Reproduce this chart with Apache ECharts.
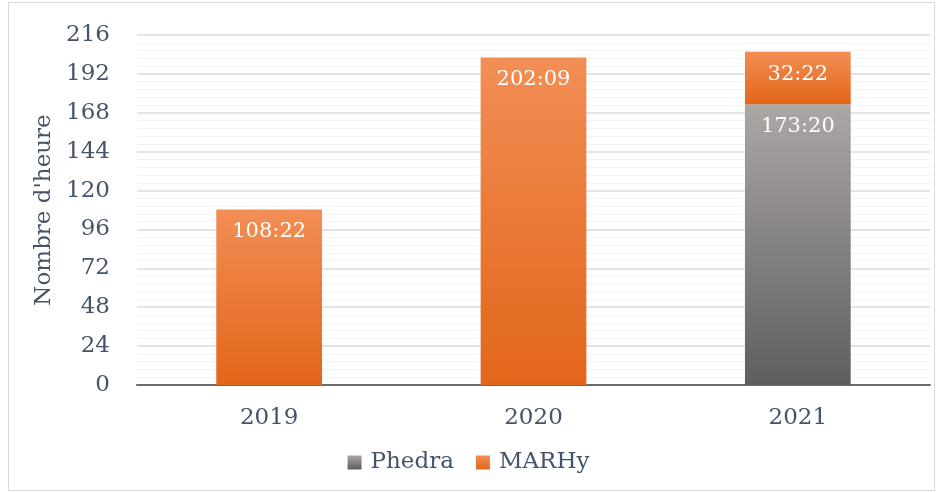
<!DOCTYPE html>
<html>
<head>
<meta charset="utf-8">
<script src="https://cdn.jsdelivr.net/npm/echarts@6/dist/echarts.min.js"></script>
<style>
  html, body { margin: 0; padding: 0; background: #fff; }
  #chart { width: 937px; height: 493px; }
</style>
</head>
<body>
<div id="chart"></div>
<script>
var years = ['2019', '2020', '2021'];
var phedra = [null, null, '173:20'];   // heures:minutes
var marhy = ['108:22', '202:09', '32:22'];
var yTicks = [0, 24, 48, 72, 96, 120, 144, 168, 192, 216];

var FONT = 'DejaVu Serif';
var TXT = '#44546a';

// "hh:mm" -> heures décimales
function toHours(s) {
    if (!s) return null;
    var p = s.split(':');
    return +p[0] + (+p[1]) / 60;
}
function toLabel(v) {
    var h = Math.floor(v + 1e-6);
    var m = Math.round((v - h) * 60);
    return h + ':' + (m < 10 ? '0' + m : m);
}

var myChart = echarts.init(document.getElementById('chart'));

var orangeGrad = new echarts.graphic.LinearGradient(0, 0, 0, 1, [
    {offset: 0, color: '#f28e55'},
    {offset: 1, color: '#e2661a'}
]);
var grayGrad = new echarts.graphic.LinearGradient(0, 0, 0, 1, [
    {offset: 0, color: '#aba7a5'},
    {offset: 1, color: '#5f5d5e'}
]);

var labelStyle = {
    show: true,
    position: 'insideTop',
    distance: 12,
    color: '#ffffff',
    fontFamily: FONT,
    fontSize: 21,
    formatter: function (p) { return toLabel(p.value); }
};

var option = {
    animation: false,
    graphic: [{
        type: 'rect',
        shape: {x: 8.5, y: 2.5, width: 926, height: 488},
        style: {fill: 'none', stroke: '#d9d9d9', lineWidth: 1},
        z: -10
    }],
    grid: {left: 137, right: 7, top: 35, bottom: 108},
    legend: {
        bottom: 14,
        left: 'center',
        icon: 'rect',
        itemWidth: 14,
        itemHeight: 14,
        itemGap: 22,
        textStyle: {fontFamily: FONT, fontSize: 23, color: TXT, padding: [0, 0, 0, 4]},
        data: ['Phedra', 'MARHy']
    },
    xAxis: {
        type: 'category',
        data: years,
        axisLine: {lineStyle: {color: '#6b6b6b', width: 2}},
        axisTick: {show: false},
        axisLabel: {fontFamily: FONT, fontSize: 23, color: TXT, margin: 22}
    },
    yAxis: {
        type: 'value',
        min: yTicks[0],
        max: yTicks[yTicks.length - 1],
        interval: yTicks[1] - yTicks[0],
        name: "Nombre d'heure",
        nameLocation: 'middle',
        nameGap: 72,
        nameTextStyle: {fontFamily: FONT, fontSize: 23, color: TXT},
        axisLine: {show: false},
        axisTick: {show: false},
        axisLabel: {fontFamily: FONT, fontSize: 23, color: TXT, margin: 27},
        splitLine: {lineStyle: {color: '#e3e4ea', width: 2}},
        minorTick: {show: false, splitNumber: 5},
        minorSplitLine: {show: true, lineStyle: {color: '#f3f3f6', width: 1}}
    },
    series: [
        {
            name: 'Phedra',
            type: 'bar',
            stack: 'total',
            barWidth: '40%',
            itemStyle: {color: grayGrad},
            label: labelStyle,
            data: phedra.map(toHours)
        },
        {
            name: 'MARHy',
            type: 'bar',
            stack: 'total',
            barWidth: '40%',
            itemStyle: {color: orangeGrad},
            label: labelStyle,
            data: marhy.map(toHours)
        }
    ]
};

myChart.setOption(option);
</script>
</body>
</html>
